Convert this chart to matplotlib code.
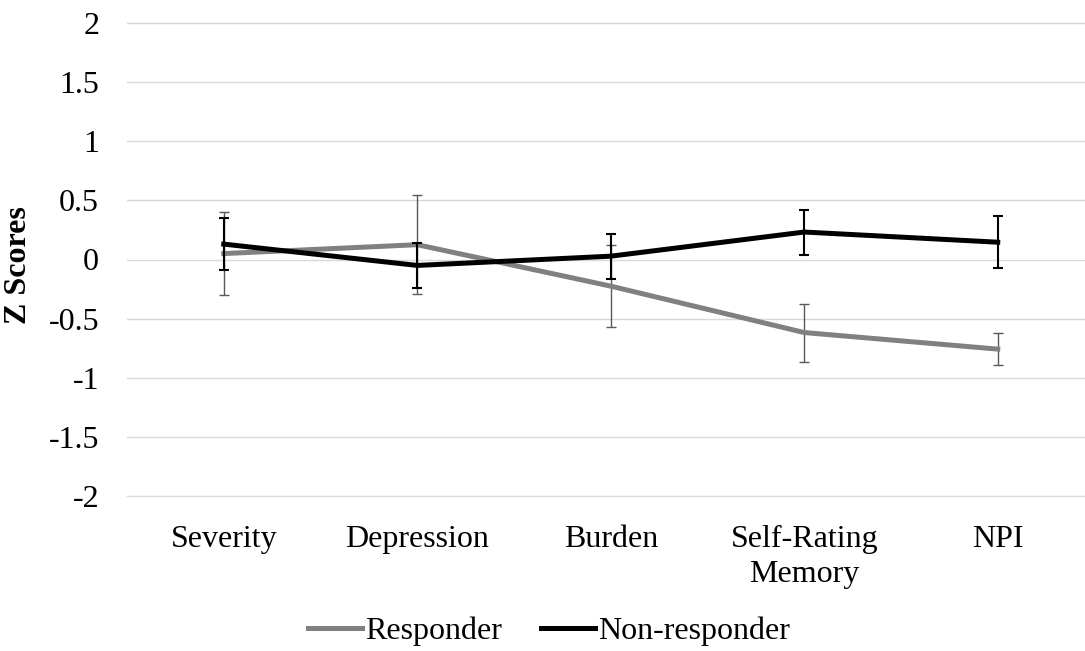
import numpy as np
import matplotlib
matplotlib.use("Agg")
import matplotlib.pyplot as plt

# ---------------------------------------------------------------------------
# Data
# ---------------------------------------------------------------------------
categories = ["Severity", "Depression", "Burden", "Self-Rating\nMemory", "NPI"]
responder = [0.05, 0.125, -0.225, -0.617, -0.757]
responder_err = [0.35, 0.42, 0.345, 0.245, 0.136]
non_responder = [0.13, -0.05, 0.028, 0.232, 0.146]
non_responder_err = [0.22, 0.19, 0.19, 0.19, 0.22]
y_ticks = [2, 1.5, 1, 0.5, 0, -0.5, -1, -1.5, -2]

COLORS = {
    "responder": "#808080",
    "responder_err": "#595959",
    "non_responder": "#000000",
    "grid": "#d9d9d9",
    "text": "#000000",
}
FS = 23

plt.rcParams["font.family"] = ["Liberation Serif", "DejaVu Serif"]

fig = plt.figure(figsize=(10.85, 6.51), dpi=100)
ax = fig.add_axes([127 / 1085, 1 - 497 / 651, 1 - 127 / 1085, (497 - 22) / 651])

x = np.arange(len(categories))

ax.errorbar(x, responder, yerr=responder_err, color=COLORS["responder"],
            ecolor=COLORS["responder_err"], elinewidth=1.0, capsize=3.8,
            capthick=1.0, linewidth=3.6, label="Responder", zorder=3)
ax.errorbar(x, non_responder, yerr=non_responder_err,
            color=COLORS["non_responder"], ecolor=COLORS["non_responder"],
            elinewidth=1.5, capsize=3.8, capthick=1.5, linewidth=3.6,
            label="Non-responder", zorder=4)

ax.set_ylim(-2.006, 2.006)
ax.set_xlim(-0.5, -0.5 + 958 / 193.5)
ax.set_yticks(y_ticks)
ax.set_yticklabels([f"{v:g}" for v in y_ticks])
ax.set_xticks(x)
ax.set_xticklabels(categories, linespacing=1.3)
ax.tick_params(axis="both", length=0, labelsize=FS, colors=COLORS["text"])
ax.tick_params(axis="y", pad=20)
ax.tick_params(axis="x", pad=20)

ax.grid(axis="y", color=COLORS["grid"], linewidth=1.0)
ax.set_axisbelow(True)
for s in ax.spines.values():
    s.set_visible(False)

ax.set_ylabel("Z Scores", fontsize=23, fontweight="bold")
ax.yaxis.set_label_coords(-0.098, 0.488)

handles, labels = ax.get_legend_handles_labels()
handles = [h[0] for h in handles]
fig.legend(handles, labels, loc="center", bbox_to_anchor=(549 / 1085, 1 - 631 / 651),
           ncol=2, frameon=False, fontsize=FS, handlelength=1.7,
           handletextpad=0.1, columnspacing=1.2, borderpad=0)

fig.savefig("out.png", dpi=100, facecolor="white")
